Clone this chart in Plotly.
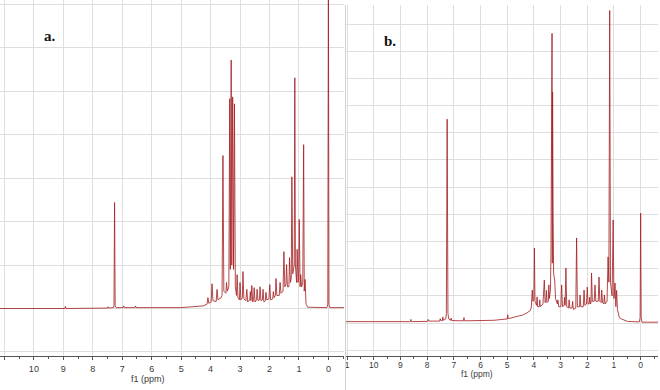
import plotly.graph_objects as go

# ---------------- data ----------------
# Panel a: 1H NMR spectrum vertices (chemical shift in ppm, intensity in grid units)
a_ppm = [11.15, 8.95, 8.93, 8.91, 7.50, 7.48, 7.46, 7.30, 7.28, 7.26, 7.24, 7.21,
         6.97, 6.95, 6.93, 6.57, 6.55, 6.53, 5.0, 4.5, 4.25, 4.12, 4.09, 4.06,
         3.98, 3.95, 3.92, 3.81, 3.78, 3.75, 3.64, 3.61, 3.58, 3.55,
         3.48, 3.46, 3.43, 3.38, 3.35, 3.33, 3.30, 3.28, 3.25, 3.22, 3.19, 3.16,
         3.12, 3.10, 3.07, 3.02, 3.00, 2.97, 2.92, 2.90, 2.87, 2.80, 2.77, 2.74,
         2.67, 2.65, 2.63, 2.60, 2.57, 2.54, 2.52, 2.49, 2.44, 2.42, 2.39,
         2.34, 2.32, 2.29, 2.24, 2.22, 2.19, 2.14, 2.12, 2.09, 2.02, 1.99, 1.96,
         1.89, 1.87, 1.84, 1.80, 1.78, 1.75, 1.67, 1.64, 1.61, 1.54, 1.51, 1.48,
         1.44, 1.42, 1.39, 1.34, 1.32, 1.29, 1.26, 1.24, 1.21, 1.16, 1.14, 1.12,
         1.08, 1.06, 1.03, 1.01, 0.99, 0.96, 0.94, 0.91, 0.87, 0.84, 0.82,
         0.79, 0.76, 0.70, 0.05, 0.02, 0.0, -0.02, -0.05, -0.53]
a_int = [0.0, 0.0, 0.05, 0.0, 0.01, 0.04, 0.01, 0.02, 0.06, 2.44, 0.06, 0.02,
         0.02, 0.06, 0.02, 0.02, 0.06, 0.02, 0.02, 0.04, 0.06, 0.1, 0.25, 0.12,
         0.15, 0.57, 0.18, 0.16, 0.44, 0.2, 0.25, 0.3, 3.52, 0.4,
         0.35, 0.6, 0.4, 0.5, 4.83, 0.9, 5.72, 1.0, 4.87, 0.9, 4.71, 0.5,
         0.3, 0.78, 0.25, 0.2, 0.6, 0.2, 0.25, 0.85, 0.22, 0.18, 0.44, 0.15,
         0.2, 0.39, 0.18, 0.53, 0.15, 0.2, 0.48, 0.15, 0.2, 0.44, 0.18,
         0.2, 0.5, 0.18, 0.2, 0.44, 0.15, 0.18, 0.37, 0.2, 0.22, 0.55, 0.2,
         0.22, 0.39, 0.25, 0.3, 0.69, 0.3, 0.3, 0.6, 0.35, 0.4, 1.31, 0.5,
         0.55, 1.01, 0.5, 0.5, 1.17, 0.6, 0.7, 3.03, 0.8, 1.0, 5.31, 1.0,
         0.6, 1.36, 0.6, 0.7, 2.05, 0.5, 0.78, 0.5, 0.6, 3.77, 0.4,
         0.67, 0.1, 0.03, 0.02, 0.1, 7.6, 0.1, 0.02, 0.02]

# Panel b: 1H NMR spectrum vertices (ppm, intensity in grid units)
b_ppm = [11.04, 8.63, 8.61, 8.59, 7.98, 7.96, 7.93, 7.53, 7.51, 7.48, 7.43, 7.41, 7.39,
         7.30, 7.28, 7.25, 7.22, 7.19, 7.12, 7.10, 7.08, 6.64, 6.62, 6.60,
         5.5, 5.0, 4.98, 4.96, 4.6, 4.4, 4.25, 4.15, 4.10,
         4.08, 4.06, 4.04, 4.00, 3.98, 3.96, 3.90, 3.88, 3.86, 3.80, 3.78, 3.76,
         3.66, 3.64, 3.61, 3.58, 3.55, 3.53, 3.51, 3.46, 3.44, 3.42,
         3.38, 3.36, 3.32, 3.31, 3.30, 3.29, 3.28, 3.26, 3.22, 3.19,
         3.12, 3.10, 3.07, 2.99, 2.96, 2.93, 2.87, 2.85, 2.83, 2.80, 2.77,
         2.70, 2.68, 2.65, 2.57, 2.55, 2.52, 2.43, 2.40, 2.37,
         2.29, 2.27, 2.24, 2.15, 2.12, 2.09, 2.03, 2.00, 1.97,
         1.93, 1.91, 1.88, 1.86, 1.84, 1.81, 1.74, 1.71, 1.68,
         1.59, 1.56, 1.53, 1.48, 1.46, 1.43, 1.38, 1.36, 1.33,
         1.26, 1.22, 1.19, 1.16, 1.13, 1.07, 1.03, 1.00, 0.96, 0.93,
         0.90, 0.87, 0.80, 0.72, 0.50, 0.05, 0.02, 0.0, -0.02, -0.05, -0.65]
b_int = [0.05, 0.05, 0.13, 0.05, 0.06, 0.13, 0.07, 0.07, 0.16, 0.08, 0.09, 0.22, 0.1,
         0.15, 0.35, 7.5, 0.35, 0.15, 0.1, 0.18, 0.09, 0.08, 0.2, 0.08,
         0.1, 0.15, 0.3, 0.16, 0.25, 0.3, 0.38, 0.45, 0.55,
         0.75, 1.21, 0.8, 0.85, 2.76, 0.8, 0.65, 0.96, 0.6, 0.6, 0.85, 0.6,
         0.7, 1.3, 1.58, 0.75, 0.8, 1.2, 0.75, 0.8, 1.4, 0.9,
         1.2, 2.57, 10.66, 2.2, 8.5, 3.0, 4.0, 1.8, 1.58, 0.9,
         0.7, 0.85, 0.6, 0.6, 1.4, 0.6, 0.65, 0.95, 0.65, 2.02, 0.6,
         0.55, 0.85, 0.55, 0.55, 0.8, 0.5, 0.55, 3.13, 0.6,
         0.6, 1.03, 0.6, 0.6, 1.21, 0.65, 0.7, 1.32, 0.7,
         0.7, 0.95, 0.7, 0.75, 1.84, 0.8, 0.8, 1.4, 0.8,
         0.8, 1.69, 0.8, 0.75, 1.21, 0.75, 0.7, 1.03, 0.7,
         0.8, 2.43, 1.5, 11.5, 1.5, 1.0, 3.79, 0.9, 1.47, 0.6,
         1.2, 0.5, 0.2, 0.15, 0.06, 0.04, 0.2, 4.04, 0.2, 0.03, 0.03]

tick_vals = [11, 10, 9, 8, 7, 6, 5, 4, 3, 2, 1, 0]
tick_text_a = ["11", "10", "9", "8", "7", "6", "5", "4", "3", "2", "1", "0"]
tick_text_b = ["1", "10", "9", "8", "7", "6", "5", "4", "3", "2", "1", "0"]
axis_title = "f1 (ppm)"
panel_labels = ["a.", "b."]

# ---------------- styling ----------------
W, H = 660, 390
LINE = "rgba(165,32,34,0.82)"
GRID = "#dedede"
AXC = "#555555"
TXT = "#3a3a3a"

fig = go.Figure()
fig.add_trace(go.Scatter(x=a_ppm, y=a_int, mode="lines", xaxis="x", yaxis="y",
                         line=dict(color=LINE, width=1), hoverinfo="skip", showlegend=False))
fig.add_trace(go.Scatter(x=b_ppm, y=b_int, mode="lines", xaxis="x2", yaxis="y2",
                         line=dict(color=LINE, width=1), hoverinfo="skip", showlegend=False))

ybot = (H - 356) / H

def xaxis_cfg(domain, rng, ticktext, fsize, standoff):
    return dict(domain=domain, range=rng, tickmode="array", tickvals=tick_vals, ticktext=ticktext,
                showgrid=True, gridcolor=GRID, gridwidth=1, zeroline=False,
                showline=True, linecolor=AXC, linewidth=1,
                ticks="outside", ticklen=3, tickcolor=AXC, tickwidth=1,
                ticklabelstandoff=standoff,
                tickfont=dict(family="Liberation Sans, Arial, sans-serif", size=fsize, color=TXT),
                minor=dict(dtick=0.5, tick0=0, ticks="outside", ticklen=2, tickcolor=AXC, showgrid=False),
                fixedrange=True, automargin=False)

def yaxis_cfg(domain, rng, anchor):
    return dict(domain=domain, range=rng, dtick=1, tick0=0, showgrid=True, gridcolor=GRID, gridwidth=1,
                zeroline=False, showline=False, showticklabels=False, ticks="", anchor=anchor,
                fixedrange=True, automargin=False)

fig.update_layout(
    width=W, height=H,
    margin=dict(l=0, r=0, t=0, b=0),
    paper_bgcolor="white", plot_bgcolor="white",
    xaxis=xaxis_cfg([0, 344 / W], [11.15, -0.53], tick_text_a, 9, 1),
    yaxis=yaxis_cfg([ybot, 1], [-1.093, 7.10], "x"),
    xaxis2=dict(xaxis_cfg([346 / W, 658 / W], [11.04, -0.65], tick_text_b, 8.5, -2), anchor="y2"),
    yaxis2=yaxis_cfg([ybot, (H - 5) / H], [-1.214, 11.70], "x2"),
    shapes=[dict(type="line", xref="paper", yref="paper", x0=345.5 / W, x1=345.5 / W,
                 y0=0, y1=(H - 5) / H, line=dict(color="#d0d0d0", width=1))],
    annotations=[
        dict(text=axis_title, xref="paper", yref="paper", x=148 / W, y=(H - 379) / H,
             xanchor="center", yanchor="middle", showarrow=False,
             font=dict(family="Liberation Sans, Arial, sans-serif", size=9, color=TXT)),
        dict(text=axis_title, xref="paper", yref="paper", x=477 / W, y=(H - 374) / H,
             xanchor="center", yanchor="middle", showarrow=False,
             font=dict(family="Liberation Sans, Arial, sans-serif", size=8.5, color=TXT)),
        dict(text="<b>" + panel_labels[0] + "</b>", xref="paper", yref="paper", x=50 / W, y=(H - 36) / H,
             xanchor="center", yanchor="middle", showarrow=False,
             font=dict(family="Liberation Serif, Times New Roman, serif", size=15, color="#111")),
        dict(text="<b>" + panel_labels[1] + "</b>", xref="paper", yref="paper", x=390 / W, y=(H - 41) / H,
             xanchor="center", yanchor="middle", showarrow=False,
             font=dict(family="Liberation Serif, Times New Roman, serif", size=15, color="#111")),
    ],
)

fig.write_html("out.html", config={"displayModeBar": False},
               post_script="document.body.style.margin='0';document.body.style.padding='0';"
                           "document.body.style.overflow='hidden';")
